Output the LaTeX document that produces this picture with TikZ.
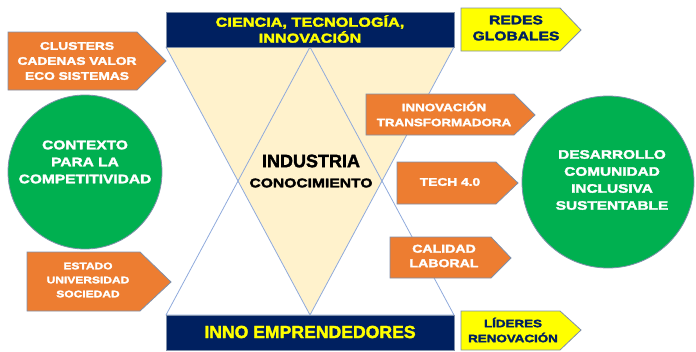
\documentclass[tikz,border=0pt]{standalone}
\usepackage{fontspec}
\newfontfamily\blk[UprightFont={* Bold},FakeStretch=1.25,FakeBold=2.5]{Liberation Sans}
\newfontfamily\bld[UprightFont={* Bold},FakeBold=2]{Liberation Sans}
\definecolor{navy}{HTML}{002060}
\definecolor{ylw}{HTML}{FFFF00}
\definecolor{orng}{HTML}{ED7D31}
\definecolor{grn}{HTML}{00B050}
\definecolor{cream}{HTML}{FFF2CC}
\definecolor{edge}{HTML}{8FAADC}
\definecolor{bord}{HTML}{7F8FA9}
\tikzset{
  tri/.style={draw=edge, line width=0.8pt, line join=round},
  bar/.style={fill=navy, draw=bord, line width=0.8pt},
  orarrow/.style={fill=orng, draw=bord, line width=0.8pt},
  yarrow/.style={fill=ylw, draw=bord, line width=0.8pt},
  circ/.style={fill=grn, draw=bord, line width=0.8pt},
  txt/.style={align=center, inner sep=0pt},
  wtxt/.style={txt, text=white},
  ytxt/.style={txt, text=ylw},
  ntxt/.style={txt, text=navy},
}
\begin{document}
\begin{tikzpicture}[x=1pt,y=-1pt]
\useasboundingbox (0,0) rectangle (696,351);
% triangles
\filldraw[tri, fill=cream] (166,47) -- (454,47) -- (310,315) -- cycle;
\draw[tri] (310,47) -- (166,315) -- (454,315) -- cycle;
% bars
\filldraw[bar] (166,12) rectangle (454,47);
\filldraw[bar] (166,315) rectangle (454,350);
\node[ytxt, font=\blk\fontsize{13}{16}\selectfont] (top) at (310,29) {CIENCIA, TECNOLOGÍA,\\INNOVACIÓN};
\node[ytxt, font=\bld\fontsize{17.6}{18}\selectfont] (bot) at (310,332) {INNO EMPRENDEDORES};
% center text
\node[txt, font=\bld\fontsize{18}{18}\selectfont] (ind) at (311,161) {INDUSTRIA};
\node[txt, font=\blk\fontsize{12.5}{14}\selectfont] (con) at (311,183) {CONOCIMIENTO};
% orange arrows
\filldraw[orarrow] (8,32) -- (137,32) -- (166,61) -- (137,90) -- (8,90) -- cycle;
\node[wtxt, font=\blk\fontsize{11}{15}\selectfont] (clu) at (77,61) {CLUSTERS\\CADENAS VALOR\\ECO SISTEMAS};
\filldraw[orarrow] (27,252) -- (140,252) -- (171,282) -- (140,311) -- (27,311) -- cycle;
\node[wtxt, font=\blk\fontsize{9.6}{14}\selectfont] (est) at (88,280) {ESTADO\\UNIVERSIDAD\\SOCIEDAD};
\filldraw[orarrow] (366,94) -- (514,94) -- (535,115) -- (514,135) -- (366,135) -- cycle;
\node[wtxt, font=\blk\fontsize{10.7}{15}\selectfont] (inn) at (444,114) {INNOVACIÓN\\TRANSFORMADORA};
\filldraw[orarrow] (397,162) -- (496,162) -- (518,183) -- (496,204) -- (397,204) -- cycle;
\node[wtxt, font=\blk\fontsize{11}{15}\selectfont] (tec) at (450,182) {TECH 4.0};
\filldraw[orarrow] (390,237) -- (491,237) -- (511,258) -- (491,278) -- (390,278) -- cycle;
\node[wtxt, font=\blk\fontsize{11.3}{14.5}\selectfont] (cal) at (444,256) {CALIDAD\\LABORAL};
% yellow arrows
\filldraw[yarrow] (461,8) -- (560,8) -- (581,30) -- (560,51) -- (461,51) -- cycle;
\node[ntxt, font=\blk\fontsize{12.5}{16}\selectfont] (red) at (516,28) {REDES\\GLOBALES};
\filldraw[yarrow] (461,311) -- (560,311) -- (581,330) -- (560,350) -- (461,350) -- cycle;
\node[ntxt, font=\blk\fontsize{10.7}{15}\selectfont] (lid) at (513,330) {LÍDERES\\RENOVACIÓN};
% circles
\filldraw[circ] (85,172) circle (77);
\node[wtxt, font=\blk\fontsize{12.4}{17}\selectfont] (ctx) at (85,162) {CONTEXTO\\PARA LA\\COMPETITIVIDAD};
\filldraw[circ] (608,182) circle (86);
\node[wtxt, font=\blk\fontsize{12.3}{17}\selectfont] (des) at (612,180) {DESARROLLO\\COMUNIDAD\\INCLUSIVA\\SUSTENTABLE};
\end{tikzpicture}
\end{document}
